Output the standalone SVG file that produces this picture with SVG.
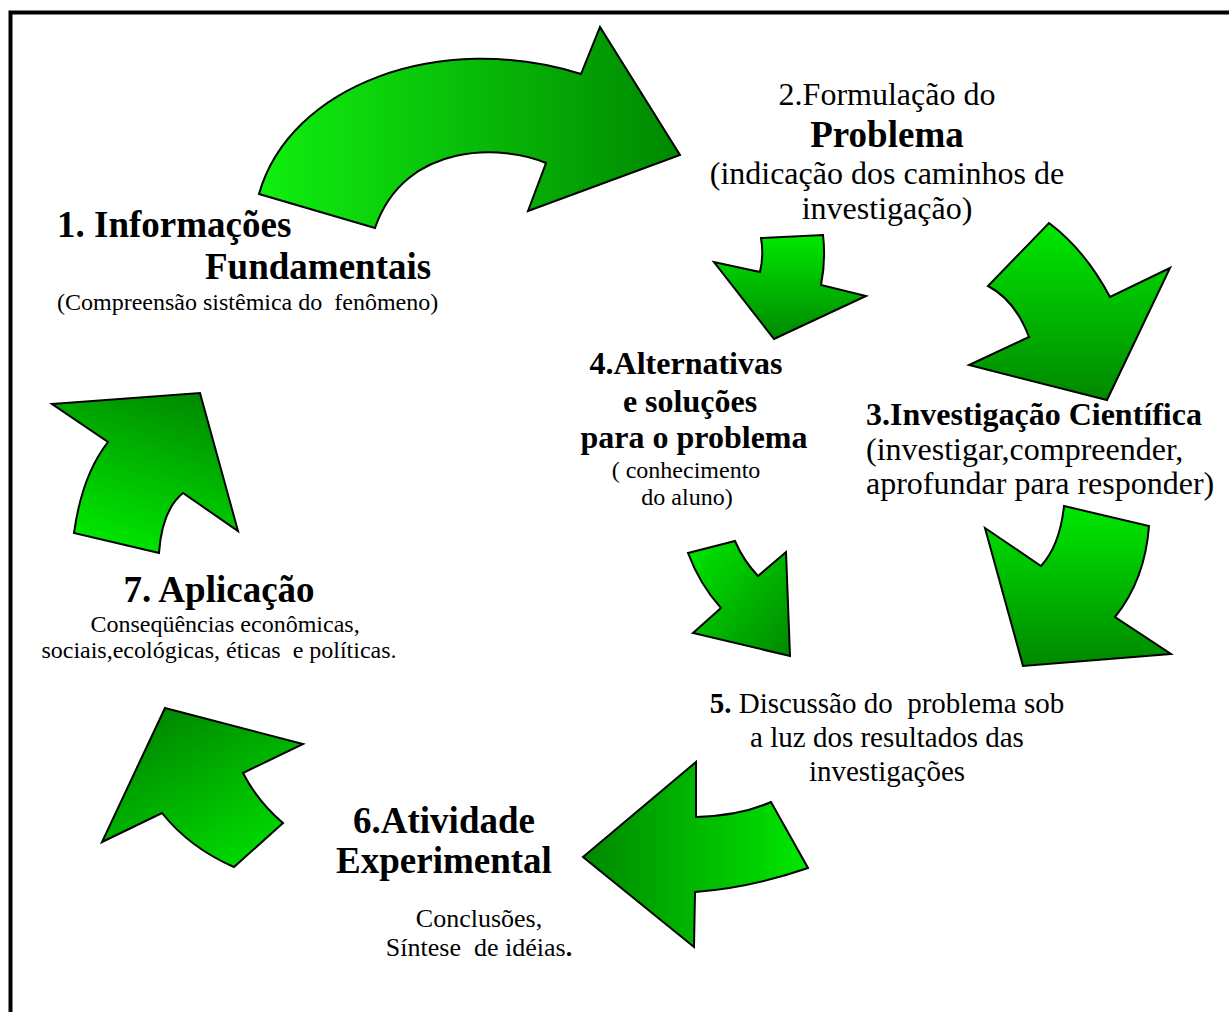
<svg xmlns="http://www.w3.org/2000/svg" width="1229" height="1012" viewBox="0 0 1229 1012">
<style>
.arr{stroke:#000;stroke-width:2;stroke-linejoin:miter}
text{font-family:"Liberation Serif","Times New Roman",serif;fill:#000;white-space:pre}
.b{font-weight:bold}
.t37{font-size:37px}
.t32{font-size:32px}
.t29{font-size:29px}
.t26{font-size:26px}
.t24{font-size:24px}
.m{text-anchor:middle}
</style>
<defs>
<linearGradient id="gR" x1="0" y1="0" x2="1" y2="0"><stop offset="0" stop-color="#10f010"/><stop offset="1" stop-color="#008800"/></linearGradient>
<linearGradient id="gL" x1="1" y1="0" x2="0" y2="0"><stop offset="0" stop-color="#00e800"/><stop offset="1" stop-color="#008800"/></linearGradient>
<linearGradient id="gD" x1="0" y1="0" x2="0" y2="1"><stop offset="0" stop-color="#00e800"/><stop offset="1" stop-color="#008800"/></linearGradient>
<linearGradient id="gDR" x1="0" y1="0" x2="1" y2="1"><stop offset="0" stop-color="#00e800"/><stop offset="1" stop-color="#008800"/></linearGradient>
<linearGradient id="gUL" x1="1" y1="1" x2="0.3" y2="0"><stop offset="0" stop-color="#00e800"/><stop offset="1" stop-color="#008800"/></linearGradient>
<linearGradient id="gUR" x1="0.4" y1="1" x2="0.8" y2="0"><stop offset="0" stop-color="#00e800"/><stop offset="1" stop-color="#008800"/></linearGradient>
</defs>
<rect x="10.5" y="12.5" width="1260" height="1040" fill="#fff" stroke="#000" stroke-width="4"/>
<g id="connectors">
<path id="a1-2" class="arr" fill="url(#gR)" d="M259,194 C290,85 440,30 581,74 L600,27 L680,155 L528,211 L546,163 C505,145 405,140 375,228 Z"/>
<path id="a2-3" class="arr" fill="url(#gD)" d="M1049,223 Q1085,250 1110,297 L1170,268 L1107,400 L969,365 L1029,337 Q1015,300 988,286 Z"/>
<path id="a2-4" class="arr" fill="url(#gD)" d="M761,238 L823,235 Q826,260 821,285 L866,296 L774,339 L714,262 L760,272 Q764,255 761,238 Z"/>
<path id="a3-5" class="arr" fill="url(#gD)" d="M1064,506 L1149,526 Q1145,580 1115,617 L1171,654 L1023,666 L985,528 L1041,566 Q1060,545 1064,506 Z"/>
<path id="a4-5" class="arr" fill="url(#gDR)" d="M688,553 L735,541 Q743,560 758,576 L786,552 L790,656 L693,633 L721,608 Q700,585 688,553 Z"/>
<path id="a5-6" class="arr" fill="url(#gL)" d="M583,857 L696,762 L696,817 Q740,816 771,802 L808,868 Q750,888 695,892 L694,947 Z"/>
<path id="a6-7" class="arr" fill="url(#gUL)" d="M165,708 L303,744 L243,773 Q258,802 283,823 L234,867 Q190,848 162,813 L102,842 Z"/>
<path id="a7-1" class="arr" fill="url(#gUR)" d="M52,404 L200,393 L238,531 L183,493 Q162,510 159,553 L74,533 Q82,475 108,442 Z"/>
</g>
<g id="n1">
<text class="b t37" x="57" y="237">1. Informações</text>
<text class="b t37" x="205" y="279">Fundamentais</text>
<text class="t24" x="57" y="310">(Compreensão sistêmica do  fenômeno)</text>
</g>
<g id="n2">
<text class="t32 m" x="887" y="105">2.Formulação do</text>
<text class="b t37 m" x="887" y="147">Problema</text>
<text class="t32 m" x="887" y="184">(indicação dos caminhos de</text>
<text class="t32 m" x="887" y="219">investigação)</text>
</g>
<g id="n3">
<text class="b t32" x="866" y="425">3.Investigação Científica</text>
<text class="t32" x="866" y="460">(investigar,compreender,</text>
<text class="t32" x="866" y="494">aprofundar para responder)</text>
</g>
<g id="n4">
<text class="b t32 m" x="686" y="374">4.Alternativas</text>
<text class="b t32 m" x="690" y="412">e soluções</text>
<text class="b t32 m" x="694" y="448">para o problema</text>
<text class="t24 m" x="686" y="478">( conhecimento</text>
<text class="t24 m" x="687" y="505">do aluno)</text>
</g>
<g id="n5">
<text class="t29 m" x="887" y="713"><tspan class="b">5.</tspan> Discussão do  problema sob</text>
<text class="t29 m" x="887" y="747">a luz dos resultados das</text>
<text class="t29 m" x="887" y="781">investigações</text>
</g>
<g id="n6">
<text class="b t37 m" x="444" y="833">6.Atividade</text>
<text class="b t37 m" x="444" y="873">Experimental</text>
<text class="t26 m" x="479" y="927">Conclusões,</text>
<text class="t26 m" x="479" y="956">Síntese  de idéias<tspan class="b">.</tspan></text>
</g>
<g id="n7">
<text class="b t37 m" x="219" y="602">7. Aplicação</text>
<text class="t24 m" x="225" y="632">Conseqüências econômicas,</text>
<text class="t24 m" x="219" y="658">sociais,ecológicas, éticas  e políticas.</text>
</g>
</svg>
